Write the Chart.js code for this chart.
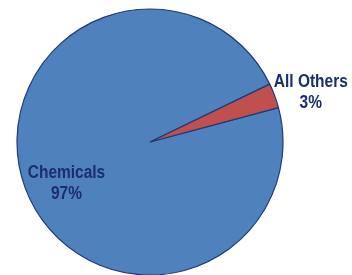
<!DOCTYPE html>
<html>
<head>
<meta charset="utf-8">
<script src="https://cdn.jsdelivr.net/npm/chart.js@4/dist/chart.umd.min.js"></script>
<style>
  html, body { margin: 0; padding: 0; background: #fff; }
  #wrap { width: 352px; height: 275px; }
</style>
</head>
<body>
<div id="wrap"><canvas id="pie"></canvas></div>
<script>
const categories = ['Chemicals', 'All Others'];
const shares = [97, 3];
const sliceColors = ['#4f81bd', '#c0504d'];

// where each label sits, relative to its slice: radius factor and angle shift (deg)
const labelRadius = [0.70, 1.265];
const labelShift = [-5.8, 3.3];

const sliceLabels = {
  id: 'sliceLabels',
  afterDatasetsDraw(chart) {
    const ctx = chart.ctx;
    const meta = chart.getDatasetMeta(0);
    const squeeze = 0.86; // the original font is a narrow one
    ctx.save();
    ctx.font = 'bold 18px "Liberation Sans", Arial, sans-serif';
    ctx.fillStyle = '#1b2e6e';
    ctx.textAlign = 'center';
    ctx.textBaseline = 'middle';
    meta.data.forEach((arc, i) => {
      const p = arc.getProps(['x', 'y', 'startAngle', 'endAngle', 'outerRadius'], true);
      const mid = (p.startAngle + p.endAngle) / 2 + labelShift[i] * Math.PI / 180;
      const r = p.outerRadius * labelRadius[i];
      const x = p.x + Math.cos(mid) * r;
      const y = p.y + Math.sin(mid) * r;
      ctx.save();
      ctx.translate(x, y);
      ctx.scale(squeeze, 1);
      ctx.fillText(categories[i], 0, -10.5);
      ctx.fillText(shares[i] + '%', 0, 10.5);
      ctx.restore();
    });
    ctx.restore();
  }
};

new Chart(document.getElementById('pie'), {
  type: 'pie',
  data: {
    labels: categories,
    datasets: [{
      data: shares,
      backgroundColor: sliceColors,
      borderColor: '#1f3a78',
      borderWidth: 1.2,
      radius: 133,
      clip: false
    }]
  },
  options: {
    responsive: true,
    maintainAspectRatio: false,
    animation: false,
    rotation: 75,
    layout: { padding: { left: 0, right: 52, top: 9, bottom: 0 } },
    plugins: {
      legend: { display: false },
      tooltip: { enabled: false }
    }
  },
  plugins: [sliceLabels]
});
</script>
</body>
</html>
